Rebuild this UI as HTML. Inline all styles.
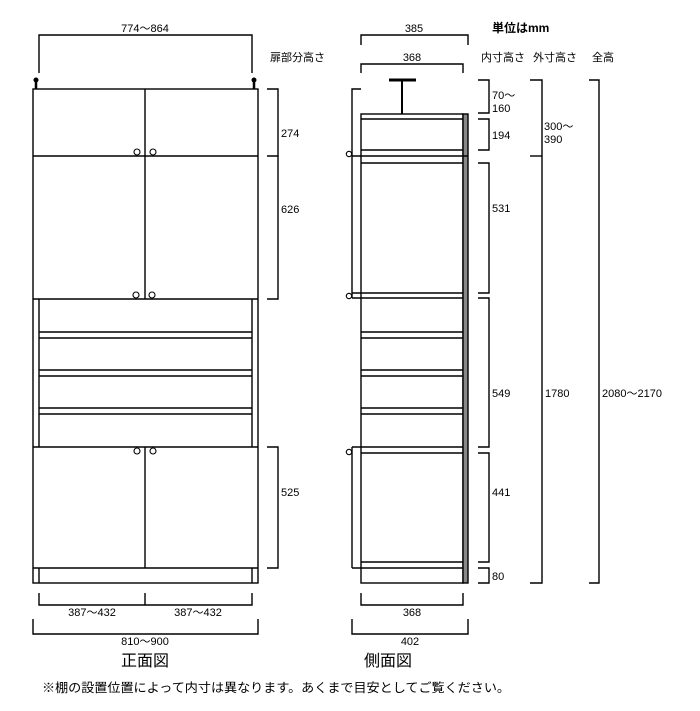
<!DOCTYPE html>
<html><head><meta charset="utf-8"><style>
html,body{margin:0;padding:0;background:#fff;}
svg{display:block;}
text{font-family:"Liberation Sans","Noto Sans CJK JP",sans-serif;font-size:11px;fill:#000;}
</style></head><body>
<svg width="700" height="711" viewBox="0 0 700 711" xmlns="http://www.w3.org/2000/svg">
<g stroke="#000" stroke-width="1.4" fill="none">
<!-- FRONT VIEW -->
<rect x="33" y="89" width="225" height="494"/>
<line x1="33" y1="156" x2="258" y2="156"/>
<line x1="33" y1="299" x2="258" y2="299"/>
<line x1="33" y1="447" x2="258" y2="447"/>
<line x1="33" y1="568" x2="258" y2="568"/>
<line x1="145" y1="89" x2="145" y2="299"/>
<line x1="145" y1="447" x2="145" y2="568"/>
<line x1="39" y1="299" x2="39" y2="447"/>
<line x1="252" y1="299" x2="252" y2="447"/>
<line x1="39" y1="568" x2="39" y2="583"/>
<line x1="252" y1="568" x2="252" y2="583"/>
<line x1="39" y1="332" x2="252" y2="332"/><line x1="39" y1="338" x2="252" y2="338"/>
<line x1="39" y1="370" x2="252" y2="370"/><line x1="39" y1="376" x2="252" y2="376"/>
<line x1="39" y1="408" x2="252" y2="408"/><line x1="39" y1="414" x2="252" y2="414"/>
<g stroke-width="1.1">
<circle cx="137" cy="152" r="3"/><circle cx="153" cy="152" r="3"/>
<circle cx="136" cy="295" r="3"/><circle cx="152" cy="295" r="3"/>
<circle cx="137" cy="451" r="3"/><circle cx="153" cy="451" r="3"/>
</g>
<line x1="36" y1="80" x2="36" y2="89" stroke-width="2.5"/>
<line x1="254" y1="80" x2="254" y2="89" stroke-width="2.5"/>
<polyline points="39,73 39,35 252,35 252,73"/>
<polyline points="267,89 278,89 278,156 267,156"/>
<polyline points="278,156 278,299 267,299"/>
<polyline points="267,447 278,447 278,568 267,568"/>
<polyline points="39,593 39,605 252,605 252,593"/>
<line x1="145" y1="593" x2="145" y2="605"/>
<polyline points="33,619 33,634 258,634 258,619"/>

<!-- SIDE VIEW -->
<rect x="361" y="114" width="102" height="469"/>
<rect x="463" y="114" width="5" height="469" fill="#888"/>
<line x1="361" y1="119" x2="463" y2="119"/>
<line x1="361" y1="150" x2="463" y2="150"/>
<line x1="352" y1="156" x2="468" y2="156"/>
<line x1="361" y1="163" x2="463" y2="163"/>
<line x1="352" y1="293" x2="463" y2="293"/>
<line x1="352" y1="298" x2="463" y2="298"/>
<line x1="361" y1="332" x2="463" y2="332"/><line x1="361" y1="338" x2="463" y2="338"/>
<line x1="361" y1="370" x2="463" y2="370"/><line x1="361" y1="376" x2="463" y2="376"/>
<line x1="361" y1="408" x2="463" y2="408"/><line x1="361" y1="414" x2="463" y2="414"/>
<line x1="352" y1="447" x2="463" y2="447"/>
<line x1="361" y1="453" x2="463" y2="453"/>
<line x1="361" y1="562" x2="463" y2="562"/>
<line x1="352" y1="568" x2="463" y2="568"/>
<polyline points="361,89 352,89 352,298"/>
<line x1="352" y1="447" x2="352" y2="568"/>
<g stroke-width="1.1">
<circle cx="349" cy="154" r="2.7" fill="#fff"/>
<circle cx="349" cy="296" r="2.7" fill="#fff"/>
<circle cx="349" cy="452" r="2.7" fill="#fff"/>
</g>
<line x1="389" y1="80" x2="416" y2="80" stroke-width="3"/>
<line x1="402" y1="80" x2="402" y2="114" stroke-width="2"/>
<polyline points="361,45 361,35 468,35 468,45"/>
<polyline points="361,73 361,64 463,64 463,73"/>
<polyline points="478,80 489,80 489,113 478,113"/>
<polyline points="478,119 489,119 489,150 478,150"/>
<polyline points="478,163 489,163 489,293 478,293"/>
<polyline points="478,298 489,298 489,447 478,447"/>
<polyline points="478,453 489,453 489,562 478,562"/>
<polyline points="478,568 489,568 489,583 478,583"/>
<polyline points="530,80 542,80 542,583 530,583"/>
<line x1="530" y1="156" x2="542" y2="156"/>
<polyline points="589,80 599,80 599,583 589,583"/>
<polyline points="361,593 361,605 463,605 463,593"/>
<polyline points="352,619 352,634 468,634 468,619"/>
</g>
<circle cx="36" cy="80" r="2.5" fill="#000"/>
<circle cx="254" cy="80" r="2.5" fill="#000"/>

<text x="145" y="32" text-anchor="middle">774～864</text>
<text x="270" y="61">扉部分高さ</text>
<text x="281" y="137">274</text>
<text x="281" y="213">626</text>
<text x="281" y="496">525</text>
<text x="92" y="616" text-anchor="middle">387～432</text>
<text x="198" y="616" text-anchor="middle">387～432</text>
<text x="145" y="645" text-anchor="middle">810～900</text>
<text x="145" y="666" text-anchor="middle" style="font-size:16px">正面図</text>

<text x="414" y="32" text-anchor="middle">385</text>
<text x="412" y="61" text-anchor="middle">368</text>
<text x="492" y="32" style="font-weight:bold;font-size:12px">単位はmm</text>
<text x="481" y="61">内寸高さ</text>
<text x="533" y="61">外寸高さ</text>
<text x="592" y="61">全高</text>
<text x="492" y="99">70～</text>
<text x="492" y="112">160</text>
<text x="492" y="139">194</text>
<text x="492" y="212">531</text>
<text x="492" y="397">549</text>
<text x="492" y="496">441</text>
<text x="492" y="580">80</text>
<text x="544" y="130">300～</text>
<text x="544" y="143">390</text>
<text x="545" y="397">1780</text>
<text x="602" y="397">2080～2170</text>
<text x="412" y="616" text-anchor="middle">368</text>
<text x="410" y="645" text-anchor="middle">402</text>
<text x="388" y="666" text-anchor="middle" style="font-size:16px">側面図</text>
<text x="42" y="692" style="font-size:12.7px" textLength="468" lengthAdjust="spacingAndGlyphs">※棚の設置位置によって内寸は異なります。あくまで目安としてご覧ください。</text>
</svg>
</body></html>
